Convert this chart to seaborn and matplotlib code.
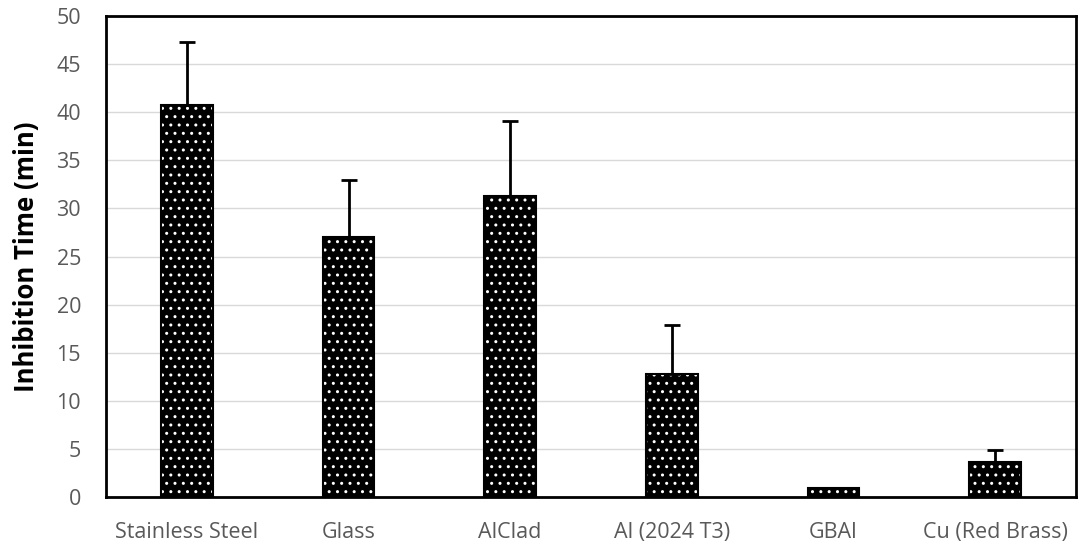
import matplotlib
matplotlib.use("Agg")
import matplotlib.pyplot as plt
import seaborn as sns
import pandas as pd
import numpy as np

categories = ["Stainless Steel", "Glass", "AlClad", "Al (2024 T3)", "GBAl", "Cu (Red Brass)"]
means = [40.7, 27.0, 31.3, 12.8, 0.9, 3.6]
errors = [6.6, 6.0, 7.8, 5.1, 0.0, 1.3]

sns.set_theme(style="white")
plt.rcParams['font.family'] = ['Open Sans', 'DejaVu Sans']

df = pd.DataFrame({"Surface": categories, "Time": means})

fig = plt.figure(figsize=(10.84, 5.52), dpi=100)
ax = fig.add_axes([0.0978, 0.0996, 0.8948, 0.8714])

sns.barplot(data=df, x="Surface", y="Time", ax=ax, color="black",
            width=0.32, saturation=1, errorbar=None, zorder=2)
for p in ax.patches:
    p.set_hatch("..")
    p.set_edgecolor("white")
    p.set_linewidth(0)
# outlines
sns.barplot(data=df, x="Surface", y="Time", ax=ax, fill=False, color="black",
            width=0.32, errorbar=None, zorder=3, linewidth=1.5, edgecolor="black")

x = np.arange(len(categories))
ax.errorbar(x, means, yerr=[np.zeros(len(errors)), errors], fmt="none",
            ecolor="black", elinewidth=2, capsize=6, capthick=2, zorder=4)

ax.set_ylim(0, 50)
ax.set_xlim(-0.5, len(categories) - 0.5)
ax.set_yticks(range(0, 51, 5))
ax.yaxis.grid(True, color="#d9d9d9", linewidth=1, zorder=0)
ax.set_axisbelow(True)
for s in ax.spines.values():
    s.set_color("black")
    s.set_linewidth(2)
ax.tick_params(axis="both", colors="#595959", labelsize=15.5, length=0)
ax.tick_params(axis="y", pad=18)
ax.tick_params(axis="x", pad=18)
ax.set_xlabel("")
ax.set_ylabel("Inhibition Time (min)", fontsize=18.5, fontweight="bold", color="black", labelpad=12)

fig.savefig("out.png", dpi=100)
